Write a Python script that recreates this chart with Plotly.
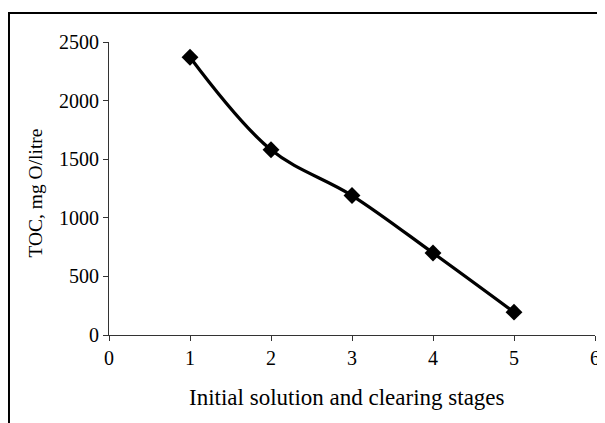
import plotly.graph_objects as go

stages = [1, 2, 3, 4, 5]
toc = [2370, 1580, 1190, 700, 195]
x_ticks = [0, 1, 2, 3, 4, 5, 6]
y_ticks = [0, 500, 1000, 1500, 2000, 2500]
x_title = "Initial solution and clearing stages"
y_title = "TOC, mg O/litre"

font = "Liberation Serif"

fig = go.Figure()
fig.add_trace(go.Scatter(
    x=stages, y=toc, mode="lines+markers",
    line=dict(color="black", width=3.2, shape="spline", smoothing=1.0),
    marker=dict(symbol="diamond", size=13, color="black"),
    showlegend=False,
))

axis_common = dict(
    showgrid=False, zeroline=False, showline=True, linecolor="#333333", linewidth=1,
    ticks="outside", ticklen=5, tickcolor="#333333", automargin=False,
    tickfont=dict(family=font, size=20, color="black"),
)
fig.update_xaxes(range=[0, 6], tickvals=x_ticks, **axis_common)
fig.update_yaxes(range=[0, 2500], tickvals=y_ticks, **axis_common)

fig.update_layout(
    width=597, height=415,
    margin=dict(l=101, r=10, t=34, b=88),
    plot_bgcolor="white", paper_bgcolor="white",
    font=dict(family=font, color="black"),
    shapes=[dict(type="rect", xref="paper", yref="paper",
                 x0=-0.2058, x1=1.3, y0=-0.6, y1=1.099,
                 line=dict(color="black", width=2), layer="below")],
    annotations=[
        dict(text=x_title, xref="paper", yref="paper", x=0.49, y=-0.215,
             showarrow=False, font=dict(family=font, size=23), xanchor="center", yanchor="middle"),
        dict(text=y_title, xref="paper", yref="paper", x=-0.152, y=0.483,
             showarrow=False, font=dict(family=font, size=19.5), textangle=-90,
             xanchor="center", yanchor="middle"),
    ],
)

fig.write_html("out.html")
